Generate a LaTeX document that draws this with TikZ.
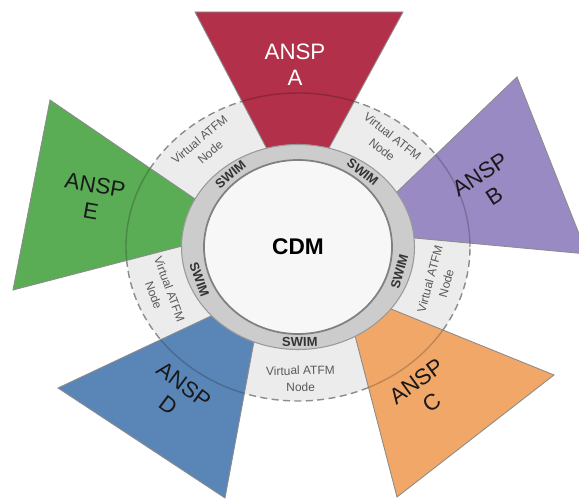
\documentclass[tikz,border=0pt]{standalone}
\usepackage{fontspec}
\setmainfont{Liberation Sans}
\usepackage{xcolor}
\usetikzlibrary{positioning}

\definecolor{anspA}{RGB}{178,48,74}
\definecolor{anspB}{RGB}{154,138,196}
\definecolor{anspC}{RGB}{240,167,104}
\definecolor{anspD}{RGB}{90,134,183}
\definecolor{anspE}{RGB}{90,172,85}
\definecolor{bandgray}{RGB}{236,236,236}
\definecolor{ringgray}{RGB}{204,204,204}
\definecolor{dashgray}{RGB}{140,140,140}

\begin{document}
\begin{tikzpicture}[x=0.02cm, y=0.02cm]
	\tikzset{sector/.style={draw=black!45, line width=0.5pt}}
	\tikzset{ansplabel/.style={align=center, font=\fontsize{12.7}{14.8}\selectfont, text=black!90}}
	\tikzset{swimlabel/.style={font=\bfseries\fontsize{7.4}{8}\selectfont, text=black!80}}
	\tikzset{vnodelabel/.style={align=center, font=\fontsize{6.8}{9.6}\selectfont, text=black!65}}

	\useasboundingbox (0,0) rectangle (579,500);
	\clip (0,0) rectangle (579,500);
	\coordinate (c) at (298,253);

	% band of virtual ATFM nodes
	\fill[bandgray] (c) ellipse [x radius=172, y radius=154];
	\draw[dashgray, line width=0.8pt, dash pattern=on 4pt off 2.5pt] (c) ellipse [x radius=172, y radius=154];

	% ANSP sectors
	\coordinate (A1) at (195,488); \coordinate (A2) at (403,488); \coordinate (A3) at (317,330); \coordinate (A4) at (278,330);
	\coordinate (B1) at (517,423); \coordinate (B2) at (587,246); \coordinate (B3) at (382,265); \coordinate (B4) at (375,287);
	\coordinate (C1) at (554,125); \coordinate (C2) at (397,3);   \coordinate (C3) at (346,199); \coordinate (C4) at (354,206);
	\coordinate (D1) at (58,112);  \coordinate (D2) at (225,2);   \coordinate (D3) at (260,191); \coordinate (D4) at (245,200);
	\coordinate (E1) at (50,400);  \coordinate (E2) at (13,210);  \coordinate (E3) at (213,262); \coordinate (E4) at (220,284);

	\foreach \n in {A, B, C, D, E}
	{
		\filldraw[sector, fill=ansp\n] (\n1) -- (\n2) -- (\n3) -- (\n4) -- cycle;
		\begin{scope}
			\clip (\n1) -- (\n2) -- (\n3) -- (\n4) -- cycle;
			\draw[black, opacity=0.2, line width=0.8pt] (c) ellipse [x radius=172, y radius=154];
		\end{scope}
	}

	\node (anspA) [ansplabel, text=white] at (295,435) {ANSP\\A};
	\node (anspB) [ansplabel, rotate=33] at (487,315) {ANSP\\B};
	\node (anspC) [ansplabel, rotate=36] at (424,108) {ANSP\\C};
	\node (anspD) [ansplabel, rotate=-37] at (176,105) {ANSP\\D};
	\node (anspE) [ansplabel, rotate=-10] at (93,302) {ANSP\\E};

	% SWIM ring and CDM core
	\filldraw[fill=ringgray, draw=black!40, line width=0.6pt] (c) ellipse [x radius=116.5, y radius=102.5];
	\filldraw[fill=white!97!black, draw=black!50, line width=1pt] (c) ellipse [x radius=94, y radius=87];
	\node (cdm) [font=\bfseries\fontsize{12.9}{14}\selectfont] at (c) {CDM};

	\begin{scope}[shift={(c)}]
		\foreach \ang/\rot [count=\i] in {130/40, 52/-38, -15/75, -89/1, 200/-70}
		{
			\node (swim\i) [swimlabel, rotate=\rot] at (\ang:105 and 95) {SWIM};
			\node (vnode\i) [vnodelabel, rotate=\rot] at (\ang:145 and 132) {Virtual ATFM\\Node};
		}
	\end{scope}
\end{tikzpicture}
\end{document}
